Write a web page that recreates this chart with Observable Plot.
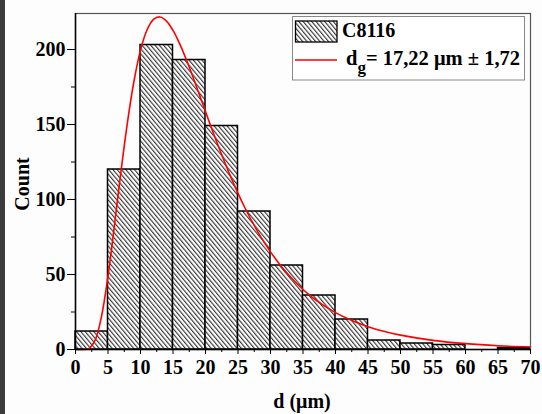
<!DOCTYPE html>
<html>
<head>
<meta charset="utf-8">
<script src="https://cdn.jsdelivr.net/npm/d3@7"></script>
<script src="https://cdn.jsdelivr.net/npm/@observablehq/plot@0.6"></script>
<style>
  html, body { margin: 0; padding: 0; background: #fdfdfd; }
  #wrap { position: relative; width: 542px; height: 414px; overflow: hidden; }
  #strip { position: absolute; left: 0; top: 0; width: 5px; height: 414px; background: #3c3c3c; }
  svg { font-family: "Liberation Serif", "Times New Roman", serif; }
</style>
</head>
<body>
<div id="wrap"><div id="strip"></div></div>
<script>
// Histogram bins (µm) and counts
const binStart = [0, 5, 10, 15, 20, 25, 30, 35, 40, 45, 50, 55, 60, 65];
const binWidth = 5;
const counts   = [12, 120, 203, 193, 149, 92, 56, 36, 20, 6, 4, 3, 0, 1];

// Log-normal fit curve
const fitX = [0, 1, 2, 3, 4, 5, 6, 7, 8, 9, 10, 11, 12, 13, 14, 15, 16, 17, 18, 20, 22, 24, 26, 28, 30, 32, 34, 36, 38, 40, 42, 45, 48, 50, 55, 60, 65, 70];
const fitY = [0, 0, 0.6, 6.1, 22, 48.9, 83.1, 118.8, 151.6, 179, 199.6, 213, 220.1, 221.7, 218.9, 212.7, 204.1, 193.8, 182.5, 158.6, 135.3, 113.9, 95, 78.8, 65.1, 53.6, 44.2, 36.3, 29.9, 24.6, 20.3, 15.2, 11.5, 9.6, 6.1, 3.9, 2.5, 1.7];

const xTicks = [0, 5, 10, 15, 20, 25, 30, 35, 40, 45, 50, 55, 60, 65, 70];
const xMinor = [2.5, 7.5, 12.5, 17.5, 22.5, 27.5, 32.5, 37.5, 42.5, 47.5, 52.5, 57.5, 62.5, 67.5];
const yTicks = [0, 50, 100, 150, 200];
const yMinor = [25, 75, 125, 175];

const xLabel = "d (μm)";
const yLabel = "Count";
const seriesName = "C8116";

const bins = binStart.map((s, i) => ({x1: s, x2: s + binWidth, count: counts[i]}));
const fit = fitX.map((x, i) => ({x, y: fitY[i]}));

const chart = Plot.plot({
  width: 542,
  height: 414,
  marginLeft: 75,
  marginRight: 12,
  marginTop: 13,
  marginBottom: 65,
  style: {fontFamily: "Liberation Serif", fontSize: "20px", fontWeight: "bold", background: "transparent", color: "black"},
  x: {domain: [0, 70]},
  y: {domain: [0, 224]},
  marks: [
    Plot.rectY(bins, {x1: "x1", x2: "x2", y: "count", fill: "url(#hatch)", stroke: "black", strokeWidth: 1.5}),
    Plot.line(fit, {x: "x", y: "y", stroke: "#ff0000", strokeWidth: 1.6, curve: "catmull-rom"}),
    Plot.frame({stroke: "#555", strokeWidth: 1.2}),
    Plot.ruleX([0], {stroke: "black", strokeWidth: 1.5}),
    Plot.ruleY([0], {stroke: "black", strokeWidth: 1.5}),
    Plot.axisX({ticks: xTicks, tickSize: 5, tickPadding: 5, tickFormat: d => String(d), label: null, fontSize: 20}),
    Plot.axisX({ticks: xMinor, tickSize: 3, tickFormat: () => "", label: null}),
    Plot.axisY({ticks: yTicks, tickSize: 8, tickPadding: 2, tickFormat: d => String(d), label: null, fontSize: 20}),
    Plot.axisY({ticks: yMinor, tickSize: 4, tickFormat: () => "", label: null})
  ]
});

document.getElementById("wrap").appendChild(chart);

const svg = d3.select(chart);
const defs = svg.insert("defs", ":first-child");
const pat = defs.append("pattern")
  .attr("id", "hatch")
  .attr("patternUnits", "userSpaceOnUse")
  .attr("width", 3.3).attr("height", 10)
  .attr("patternTransform", "rotate(-40)");
pat.append("rect").attr("width", 3.3).attr("height", 10).attr("fill", "white");
pat.append("line")
  .attr("x1", 0.6).attr("x2", 0.6).attr("y1", 0).attr("y2", 10)
  .attr("stroke", "#1a1a1a").attr("stroke-width", 1);

// axis titles
svg.append("text")
  .attr("x", 302).attr("y", 408)
  .attr("text-anchor", "middle")
  .attr("font-size", 20).attr("font-weight", "bold")
  .text(xLabel);
svg.append("text")
  .attr("transform", "translate(29,184) rotate(-90)")
  .attr("text-anchor", "middle")
  .attr("font-size", 20).attr("font-weight", "bold")
  .text(yLabel);

// legend
const lg = svg.append("g").attr("text-anchor", "start");
lg.append("rect").attr("x", 292.5).attr("y", 16.5).attr("width", 232).attr("height", 63.5)
  .attr("fill", "white").attr("stroke", "#888").attr("stroke-width", 1);
lg.append("rect").attr("x", 295.5).attr("y", 21).attr("width", 41.5).attr("height", 21)
  .attr("fill", "url(#hatch)").attr("stroke", "black").attr("stroke-width", 1.3);
lg.append("text").attr("x", 342).attr("y", 37).attr("font-size", 20).attr("font-weight", "bold").text(seriesName);
lg.append("line").attr("x1", 295).attr("x2", 337).attr("y1", 60).attr("y2", 60)
  .attr("stroke", "#ff0000").attr("stroke-width", 1.6);
const t = lg.append("text").attr("x", 346).attr("y", 65).attr("font-size", 20.5).attr("font-weight", "bold");
t.append("tspan").text("d");
t.append("tspan").attr("dy", 8).attr("font-size", 17).text("g");
t.append("tspan").attr("dy", -8).text("= 17,22 μm ± 1,72");
</script>
</body>
</html>
